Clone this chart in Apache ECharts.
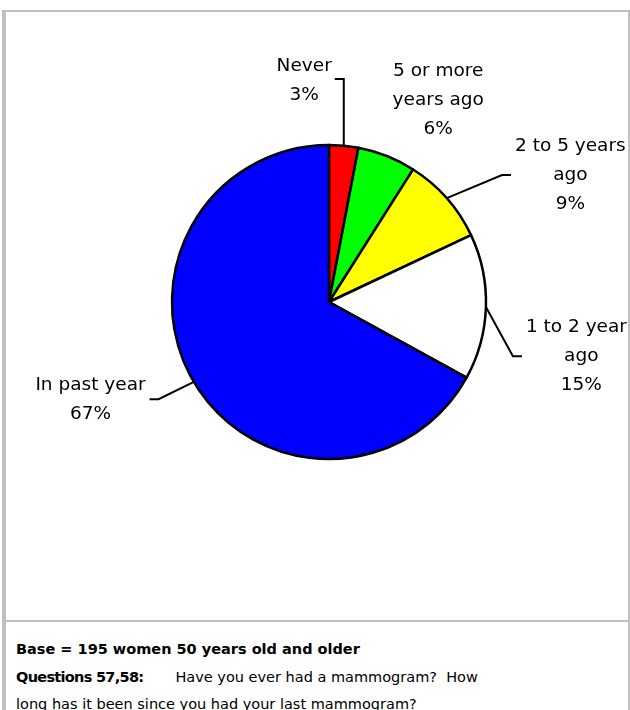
<!DOCTYPE html>
<html>
<head>
<meta charset="utf-8">
<script src="https://cdn.jsdelivr.net/npm/echarts@6/dist/echarts.min.js"></script>
<style>
  html, body { margin: 0; padding: 0; background: #ffffff; width: 630px; height: 710px; overflow: hidden; }
  .rule { position: absolute; background: #c0c0c0; }
  #chart { position: absolute; left: 6px; top: 12px; width: 622px; height: 608px; overflow: hidden; }
  #note {
    position: absolute; left: 16px; top: 636px; width: 610px;
    font-family: "DejaVu Sans", sans-serif; font-size: 14.5px; line-height: 27.5px;
    color: #000; white-space: pre;
  }
  #note b { font-weight: bold; }
  #note .q { letter-spacing: -0.7px; }
  #note .ask { margin-left: 32px; }
</style>
</head>
<body>
<div class="rule" style="left:2px; top:10px; width:628px; height:2px;"></div>
<div class="rule" style="left:2px; top:10px; width:4px; height:700px;"></div>
<div class="rule" style="left:628px; top:10px; width:2px; height:700px;"></div>
<div class="rule" style="left:2px; top:620px; width:628px; height:2px;"></div>
<div id="chart"></div>
<div id="note"><b>Base = 195 women 50 years old and older</b>
<b class="q">Questions 57,58:</b><span class="ask">Have you ever had a mammogram?  How</span>
long has it been since you had your last mammogram?</div>
<script>
// Time since last mammogram (percent of respondents)
const categories = ['Never', '5 or more\nyears ago', '2 to 5 years\nago', '1 to 2 years\nago', 'In past year'];
const percents = [3, 6, 9, 15, 67];
const sliceColors = ['#ff0000', '#00ff00', '#ffff00', '#ffffff', '#0000ff'];

// Leader-line lengths and label nudges for each slice
const labelTweaks = [
  { length: 67, length2: 9, mirror: true },
  { length: 62, length2: 0, hideLine: true, dx: -21, dy: 2 },
  { length: 35, length2: 38 },
  { length: 10, length2: 26, dy: 49 },
  { length: 34, length2: 15 }
];
const TAIL = 9;
const GAP = 3;

const chart = echarts.init(document.getElementById('chart'), null, { renderer: 'canvas' });

const seriesData = categories.map(function (name, i) {
  const t = labelTweaks[i];
  return {
    name: name,
    value: percents[i],
    itemStyle: { color: sliceColors[i] },
    labelLine: { show: !t.hideLine, length: t.length, length2: t.length2 }
  };
});

chart.setOption({
  animation: false,
  series: [{
    type: 'pie',
    center: [323, 290],
    radius: 157,
    startAngle: 90,
    clockwise: true,
    avoidLabelOverlap: false,
    silent: true,
    data: seriesData,
    itemStyle: { borderColor: '#000000', borderWidth: 2.5 },
    label: {
      show: true,
      position: 'outside',
      distanceToLabelLine: 4,
      color: '#000',
      fontFamily: 'DejaVu Sans',
      fontSize: 18.5,
      lineHeight: 29,
      formatter: function (p) {
        return '{c|' + p.name + '\n' + p.value + '%}';
      },
      rich: {
        c: { align: 'center', color: '#000', fontFamily: 'DejaVu Sans', fontSize: 18.5, lineHeight: 29 }
      }
    },
    labelLine: {
      show: true,
      smooth: false,
      lineStyle: { color: '#000000', width: 2 }
    },
    labelLayout: function (params) {
      const t = labelTweaks[params.dataIndex];
      const pts = params.labelLinePoints;
      const dx = t.dx || 0;
      const dy = t.dy || 0;
      if (!pts || t.hideLine) {
        return { dx: dx, dy: dy };
      }
      const start = pts[0];
      if (t.mirror) {
        // vertical rise, then a short tail back toward the label on the left
        const bendM = [start[0], pts[1][1]];
        const endM = [bendM[0] - TAIL, bendM[1]];
        return {
          x: endM[0] - GAP,
          y: endM[1] + 2,
          align: 'right',
          labelLinePoints: [start, bendM, endM]
        };
      }
      const side = pts[2][0] >= pts[1][0] ? 1 : -1;
      const end = [pts[2][0] + dx, pts[2][1] + dy];
      const bend = [end[0] - side * TAIL, end[1]];
      return { dx: dx, dy: dy, labelLinePoints: [start, bend, end] };
    }
  }]
});
</script>
</body>
</html>
